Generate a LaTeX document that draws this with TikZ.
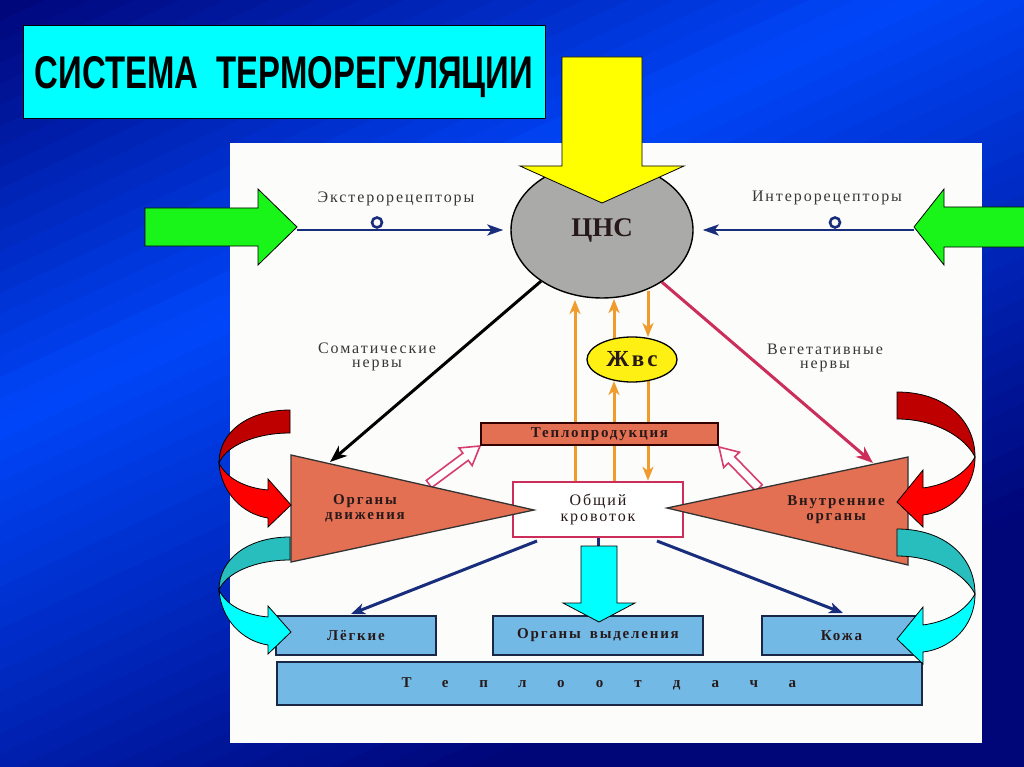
\documentclass[tikz,border=0pt]{standalone}
\usepackage{graphicx}
\usepackage{fontspec}
\setmainfont{Liberation Serif}
\newfontfamily\titlefont{Liberation Sans}
\newfontfamily\lblfont[LetterSpace=12]{Liberation Serif}
\usetikzlibrary{calc,arrows.meta,shapes.geometric}
\definecolor{navybg}{RGB}{0,5,120}
\definecolor{brightbg}{RGB}{0,70,250}
\definecolor{titlecyan}{RGB}{0,255,255}
\definecolor{panelwhite}{RGB}{252,252,250}
\definecolor{arrowyellow}{RGB}{255,255,0}
\definecolor{arrowgreen}{RGB}{25,245,25}
\definecolor{cnsgray}{RGB}{170,170,168}
\definecolor{zhyellow}{RGB}{255,240,20}
\definecolor{salmon}{RGB}{228,112,84}
\definecolor{crimson}{RGB}{205,45,90}
\definecolor{navyline}{RGB}{25,45,125}
\definecolor{orangeline}{RGB}{240,155,45}
\definecolor{boxblue}{RGB}{115,185,230}
\definecolor{boxedge}{RGB}{25,40,70}
\definecolor{hollowpink}{RGB}{215,60,110}
\definecolor{darkred}{RGB}{190,0,0}
\definecolor{brightred}{RGB}{255,0,0}
\definecolor{tealarr}{RGB}{40,190,190}
\definecolor{cyanarr}{RGB}{0,255,255}
\definecolor{labelgray}{RGB}{55,55,55}
\definecolor{textdark}{RGB}{40,25,25}
\pgfdeclarelayer{bglayer}
\pgfdeclarelayer{lines}
\pgfdeclarelayer{front}
\pgfsetlayers{bglayer,lines,main,front}
\newcommand\blockarr[6]{%
  \coordinate (ba-n) at ($(#3)!#6!(#2)$);
  \draw[#1] ($(#2)!#4!90:(#3)$) -- ($(ba-n)!#4!-90:(#2)$) -- ($(ba-n)!#5!-90:(#2)$) -- (#3) -- ($(ba-n)!#5!90:(#2)$) -- ($(ba-n)!#4!90:(#2)$) -- ($(#2)!#4!-90:(#3)$) -- cycle;}
\newcommand\tlsp[1]{\makebox[38.6pt]{#1}}
\begin{document}
\begin{tikzpicture}[x=1pt,y=-1pt,
  lbl/.style={font=\lblfont\fontsize{16}{14.5}\selectfont, text=labelgray, align=center, inner sep=0pt},
  blbl/.style={font=\lblfont\bfseries\fontsize{15}{15}\selectfont, text=textdark, align=center, inner sep=0pt},
  recline/.style={navyline, line width=2.8pt, -{Stealth[length=16pt,width=11pt,inset=4pt]}},
  nerve/.style={line width=3pt, -{Stealth[length=17pt,width=13pt,inset=5pt]}},
  orarr/.style={orangeline, line width=3pt, -{Stealth[length=14pt,width=11pt,inset=4pt]}},
  bluearr/.style={navyline, line width=3pt, -{Stealth[length=14pt,width=11pt,inset=4pt]}},
  bbox/.style={draw=boxedge, line width=1.4pt, fill=boxblue, inner sep=0pt, minimum height=39pt, font=\lblfont\bfseries\fontsize{15}{15}\selectfont, text=textdark},
  hollowarr/.style={draw=hollowpink, line width=1.6pt, fill=white, line join=miter},
  blk/.style={draw=black, line width=0.8pt, line join=miter},
  tri/.style={fill=salmon, draw=black!80, line width=1.3pt, line join=miter}]
\useasboundingbox (0,0) rectangle (1024,767);
% ---------- background ----------
\begin{pgfonlayer}{bglayer}
\begin{scope}
\clip (0,0) rectangle (1024,767);
\fill[navybg] (0,0) rectangle (1024,767);
\begin{scope}[rotate=-65]
\foreach \i in {0,...,59} {
  \pgfmathsetmacro\ua{\i*19}
  \pgfmathsetmacro\ub{\ua+20}
  \pgfmathsetmacro\um{\ua+9.5}
  \pgfmathsetmacro\mx{\um<382 ? \um/3.82 : max(0,100-(\um-382)/5.2)}
  \fill[brightbg!\mx!navybg] (\ua,-1500) rectangle (\ub,1500);
}
\end{scope}
\end{scope}
\fill[panelwhite] (230,143) rectangle (982,743);
\end{pgfonlayer}
% ---------- title ----------
\node[fill=titlecyan, draw=black, line width=0.6pt, minimum width=522pt, minimum height=93pt, inner sep=0pt, anchor=north west] (titlebox) at (23,25) {};
\node[anchor=base, inner sep=0pt] (title) at (284,88.5) {\resizebox{498pt}{32pt}{\titlefont\bfseries СИСТЕМА\ \ ТЕРМОРЕГУЛЯЦИИ}};
% ---------- main nodes ----------
\node[ellipse, draw=black, line width=1.4pt, fill=cnsgray, minimum width=182pt, minimum height=136pt, inner sep=0pt, font=\bfseries\fontsize{27}{27}\selectfont, text=textdark] (cns) at (602,230) {ЦНС};
\node[lbl] (ext) at (396,199) {Экстерорецепторы};
\node[lbl] (int) at (827,198) {Интерорецепторы};
\node[lbl] (som) at (377,357) {Соматические\\нервы};
\node[lbl] (veg) at (825,358) {Вегетативные\\нервы};
\node[draw=black!80!red, line width=1.3pt, fill=salmon, minimum width=237pt, minimum height=22pt, blbl] (tpr) at (599.5,434) {Теплопродукция};
\node[ellipse, draw=black, line width=1.3pt, fill=zhyellow, minimum width=90pt, minimum height=45pt, inner sep=0pt, font=\lblfont\bfseries\fontsize{23}{23}\selectfont, text=textdark] (zh) at (632,359.5) {Жвс};
\node[draw=crimson, line width=2.5pt, fill=white, minimum width=170pt, minimum height=55pt, inner sep=0pt, font=\lblfont\fontsize{16}{16}\selectfont, text=textdark, align=center] (kb) at (598,509.5) {Общий\\кровоток};
% triangles
\coordinate (ltA) at (291,455); \coordinate (ltB) at (291,562); \coordinate (ltT) at (534,510);
\coordinate (rtA) at (908,457); \coordinate (rtB) at (908,565); \coordinate (rtT) at (667,508);
\path[tri] (ltA) -- (ltT) -- (ltB) -- cycle;
\path[tri] (rtA) -- (rtT) -- (rtB) -- cycle;
\node[blbl] (odv) at (365,508) {Органы\\движения};
\node[blbl] (vno) at (836,510) {Внутренние\\органы};
% bottom boxes
\node[bbox, minimum width=160pt] (lg) at (356,635.5) {Лёгкие};
\node[bbox, minimum width=210pt] (ov) at (598,635.5) {Органы\hspace{0.6em}выделения};
\node[bbox, minimum width=159pt] (kz) at (841.5,635.5) {Кожа};
\node[bbox, minimum width=645pt, minimum height=43pt] (tpo) at (599.5,683.5) {\tlsp{Т}\tlsp{е}\tlsp{п}\tlsp{л}\tlsp{о}\tlsp{о}\tlsp{т}\tlsp{д}\tlsp{а}\tlsp{ч}\tlsp{а}};
% ---------- connectors ----------
\coordinate (gL) at (297,230);
\coordinate (gR) at (914,230);
\coordinate (somEnd) at (330,462);
\coordinate (vegEnd) at (873,463);
\coordinate (o1top) at (575,300);
\coordinate (o2a) at (614,381); \coordinate (o2b) at (614,339); \coordinate (o2c) at (614,299);
\coordinate (o3a) at (648,291); \coordinate (o3b) at (648,337); \coordinate (o3c) at (648,381);
\coordinate (bl1) at (537,541); \coordinate (bl1e) at (351,614);
\coordinate (bl2) at (657,541); \coordinate (bl2e) at (843,613);
\coordinate (hL1) at (429,484); \coordinate (hL2) at (480,446);
\coordinate (hR1) at (759,488); \coordinate (hR2) at (719,447);
\begin{pgfonlayer}{lines}
\draw[recline, shorten >=7pt] (gL) -- (cns.west);
\draw[navyline, line width=2.6pt] (377,222.5) circle (5);
\draw[recline, shorten >=9pt] (gR) -- (cns.east);
\draw[navyline, line width=2.6pt] (835,222.5) circle (5);
\draw[nerve, black] (cns.220) -- (somEnd);
\draw[nerve, crimson] (cns.-41) -- (vegEnd);
\draw[orarr] (kb.north -| o1top) -- (o1top);
\draw[orarr] (kb.north -| o2a) -- (o2a);
\draw[orarr] (o2b) -- (o2c);
\draw[orarr] (o3a) -- (o3b);
\draw[orarr] (o3c) -- (kb.north -| o3c);
\draw[bluearr] (bl1) -- (bl1e);
\draw[bluearr] (bl2) -- (bl2e);
\draw[navyline, line width=3pt] (kb.south) -- (ov.north);
\blockarr{hollowarr}{hL1}{hL2}{4.5pt}{11pt}{18pt}
\blockarr{hollowarr}{hR1}{hR2}{4.5pt}{11pt}{18pt}
\end{pgfonlayer}
% ---------- block arrows ----------
\begin{pgfonlayer}{front}
\coordinate (yT) at (602,57); \coordinate (yP) at (602,203);
\blockarr{blk, fill=arrowyellow}{yT}{yP}{40pt}{82pt}{37pt}
\coordinate (gLt) at (145,227); \coordinate (gLp) at (297,227);
\blockarr{blk, fill=arrowgreen}{gLt}{gLp}{19pt}{38pt}{39pt}
\coordinate (gRt) at (1030,227); \coordinate (gRp) at (914,227);
\blockarr{blk, fill=arrowgreen}{gRt}{gRp}{20pt}{38pt}{30pt}
\coordinate (cyT) at (599,546); \coordinate (cyP) at (599,622);
\blockarr{blk, fill=cyanarr}{cyT}{cyP}{18pt}{36pt}{19pt}
% curved arrows left
\foreach \dy/\ca/\cb in {0/darkred/brightred, 127/tealarr/cyanarr} {
\begin{scope}[shift={(0,\dy)}]
\draw[blk, fill=\ca] (290,410) .. controls (248,410) and (219,432) .. (219,463) .. controls (226,446) and (255,433) .. (290,433) -- cycle;
\draw[blk, fill=\cb] (219,463) .. controls (221,492) and (242,514) .. (268,518) -- (268,527) -- (291,505) -- (268,479) -- (268,490) .. controls (245,488) and (226,478) .. (219,463) -- cycle;
\end{scope}
}
% curved arrows right
\foreach \dy/\ca/\cb in {0/darkred/brightred, 137/tealarr/cyanarr} {
\begin{scope}[shift={(0,\dy)}]
\draw[blk, fill=\ca] (897,392) .. controls (945,392) and (975,420) .. (975,457) .. controls (965,437) and (935,419) .. (897,419) -- cycle;
\draw[blk, fill=\cb] (975,457) .. controls (975,490) and (950,512) .. (923,515) -- (923,527) -- (897,502) -- (923,470) -- (923,488) .. controls (945,485) and (965,475) .. (975,457) -- cycle;
\end{scope}
}
\end{pgfonlayer}
\end{tikzpicture}
\end{document}
